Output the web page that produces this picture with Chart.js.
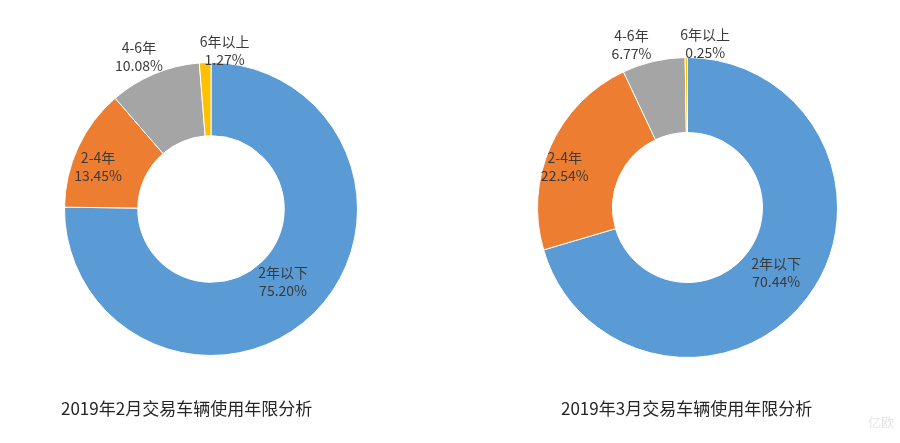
<!DOCTYPE html>
<html>
<head>
<meta charset="utf-8">
<script src="https://cdn.jsdelivr.net/npm/chart.js@4.4.0/dist/chart.umd.min.js"></script>
<style>
  html, body { margin: 0; padding: 0; background: #fff; }
  #wrap { position: relative; width: 900px; height: 443px; overflow: hidden; }
  canvas { position: absolute; top: 0; }
  .title {
    position: absolute; top: 395px;
    font-family: "Noto Sans CJK SC", "Noto Sans", sans-serif;
    font-size: 17px; color: #262626; white-space: nowrap; line-height: 26px;
  }
  .mark {
    position: absolute; left: 868px; top: 412px;
    font-family: "Noto Sans CJK SC", sans-serif; font-size: 13px; color: #e6e6e6;
  }
</style>
</head>
<body>
<div id="wrap">
  <canvas id="feb-chart" width="450" height="443" style="left:0"></canvas>
  <canvas id="mar-chart" width="450" height="443" style="left:450px"></canvas>
  <div class="title" id="feb-title" style="left:61px"></div>
  <div class="title" id="mar-title" style="left:561px"></div>
  <div class="mark">亿欧</div>
</div>
<script>
// Données : répartition par ancienneté des véhicules
var categories = ["2年以下", "2-4年", "4-6年", "6年以上"];
var febValues = [75.20, 13.45, 10.08, 1.27];
var marValues = [70.44, 22.54, 6.77, 0.25];
var chartTitles = ["2019年2月交易车辆使用年限分析", "2019年3月交易车辆使用年限分析"];

var sliceColors = ["#5B9BD5", "#ED7D31", "#A5A5A5", "#FFC000"];

// Placement des étiquettes : distance (fraction du rayon externe) + décalage
var febLabelPos = [
  { f: 0.70, dx: 0, dy: 0 },
  { f: 0.82, dx: -4, dy: 8 },
  { f: 1.15, dx: -7, dy: 3 },
  { f: 1.09, dx: 20, dy: 1 }
];
var marLabelPos = [
  { f: 0.73, dx: 1, dy: 0 },
  { f: 0.86, dx: -5, dy: 12 },
  { f: 1.15, dx: -17, dy: 5 },
  { f: 1.10, dx: 19, dy: 1 }
];

// Plugin maison pour dessiner les étiquettes
var sliceLabels = {
  id: "sliceLabels",
  afterDatasetsDraw: function (chart, args, opts) {
    var ctx = chart.ctx;
    var meta = chart.getDatasetMeta(0);
    var values = chart.data.datasets[0].data;
    ctx.save();
    ctx.font = '14px "Noto Sans CJK SC", "Noto Sans", sans-serif';
    ctx.fillStyle = "#3a3a3a";
    ctx.textAlign = "center";
    ctx.textBaseline = "middle";
    meta.data.forEach(function (arc, i) {
      var p = opts.pos[i];
      var mid = (arc.startAngle + arc.endAngle) / 2;
      var d = arc.outerRadius * p.f;
      var x = arc.x + Math.cos(mid) * d + p.dx;
      var y = arc.y + Math.sin(mid) * d + p.dy;
      ctx.fillText(chart.data.labels[i], x, y - 9);
      ctx.fillText(values[i].toFixed(2) + "%", x, y + 9);
    });
    ctx.restore();
  }
};

var makeChart = function (id, values, labelPos, padding) {
  return new Chart(document.getElementById(id), {
    type: "doughnut",
    data: {
      labels: categories,
      datasets: [
        {
          data: values,
          backgroundColor: sliceColors,
          borderColor: "#ffffff",
          borderWidth: 1,
        },
      ],
    },
    options: {
      responsive: false,
      animation: false,
      cutout: "50%",
      layout: { padding: padding },
      plugins: {
        legend: { display: false },
        tooltip: { enabled: false },
        sliceLabels: { pos: labelPos },
      },
    },
    plugins: [sliceLabels],
  });
};

makeChart("feb-chart", febValues, febLabelPos, { left: 64, top: 62, right: 92, bottom: 87 });
makeChart("mar-chart", marValues, marLabelPos, { left: 87, top: 57, right: 62, bottom: 85 });

document.getElementById("feb-title").textContent = chartTitles[0];
document.getElementById("mar-title").textContent = chartTitles[1];
</script>
</body>
</html>
